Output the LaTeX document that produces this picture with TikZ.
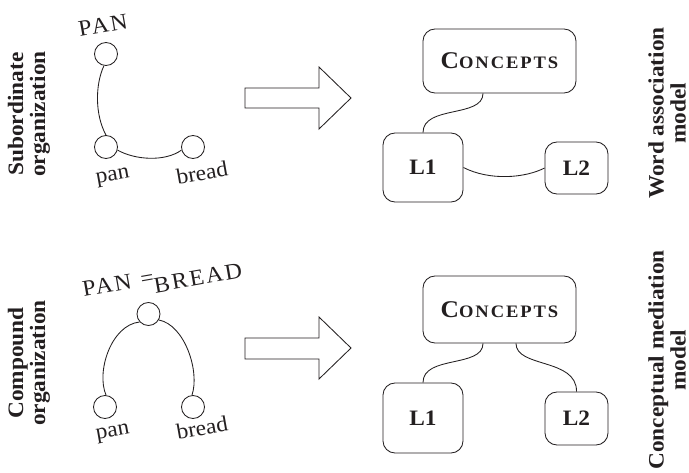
\documentclass[tikz,border=0pt]{standalone}
\usepackage{fontspec}
\setmainfont{Liberation Serif}[FakeStretch=1.06]
\definecolor{ink}{RGB}{35,31,32}
\newcommand{\ConceptsText}{{\fontsize{24}{24}\selectfont\addfontfeature{LetterSpace=6}C}{\fontsize{17.5}{17.5}\selectfont\addfontfeature{LetterSpace=11}ONCEPTS}}
\begin{document}
\begin{tikzpicture}[x=1pt,y=-1pt,
  ln/.style={draw=ink, line width=0.85pt},
  dot/.style={circle, draw=ink, line width=0.85pt, minimum size=23pt, inner sep=0pt},
  box/.style={draw=ink, rounded corners=12pt, line width=0.85pt, inner sep=0pt, text=ink,
    font=\fontsize{22}{22}\selectfont\bfseries},
  lab/.style={font=\fontsize{22}{22}\selectfont\bfseries, align=center, text=ink, rotate=90, inner sep=0pt},
  word/.style={font=\fontsize{22}{22}\selectfont, text=ink, rotate=10, inner sep=0pt},
  caps/.style={font=\fontsize{22.5}{22.5}\selectfont\addfontfeature{LetterSpace=9}, text=ink, rotate=10, inner sep=0pt},
  bigarrow/.style={draw=ink, line width=0.85pt, fill=white}
]
\fill[white] (0,0) rectangle (689,472);
\useasboundingbox (0,0) rectangle (689,472);

% side labels
\node[lab] (labA) at (29,114) {Subordinate\\organization};
\node[lab] (labB) at (29,363) {Compound\\organization};
\node[lab] (labC) at (667,113) {Word association\\model};
\node[lab] (labD) at (667,360) {Conceptual mediation\\model};

% top left graph
\node[dot] (PANa) at (106,54) {};
\node[dot] (pana) at (106,147) {};
\node[dot] (breada) at (193,147) {};
\node[caps] (tPANa) at (103,25) {PAN};
\node[word] (tpana) at (113,178) {pan};
\node[word] (tbreada) at (202,173) {bread};
\draw[ln] (PANa.-100) .. controls (95,85) and (95,115) .. (pana.90);
\draw[ln] (pana.-15) .. controls (135,160) and (165,162) .. (breada.195);

% bottom left graph
\node[dot] (PANb) at (148.5,314) {};
\node[dot] (panb) at (105,407) {};
\node[dot] (breadb) at (193,407) {};
\node[caps] (tPANb) at (107,285) {PAN};
\node[word] (teq) at (147.5,280) {=};
\node[caps] (tBREADb) at (198,278) {BREAD};
\node[word] (tpanb) at (113,434) {pan};
\node[word] (tbreadb) at (202,428) {bread};
\draw[ln] (PANb.222) .. controls (111,325) and (96,372) .. (panb.85);
\draw[ln] (PANb.-30) .. controls (185,325) and (200,372) .. (breadb.95);

% big arrows
\draw[bigarrow] (245,88) -- (319,88) -- (319,67) -- (351,98) -- (319,129) -- (319,108) -- (245,108) -- cycle;
\draw[bigarrow] (245,338) -- (319,338) -- (319,317) -- (351,348) -- (319,379) -- (319,359) -- (245,359) -- cycle;

% top right model
\node[box, minimum width=153pt, minimum height=64pt] (Ca) at (499.5,61) {\ConceptsText};
\node[box, minimum width=80pt, minimum height=69pt] (L1a) at (423,167.5) {L1};
\node[box, minimum width=63pt, minimum height=52pt] (L2a) at (576.5,168) {L2};
\draw[ln] (Ca.south -| 483,0) .. controls (483,118) and (423,105) .. (L1a.north);
\draw[ln] (L1a.east) .. controls (490,181) and (525,178) .. (L2a.west);

% bottom right model
\node[box, minimum width=153pt, minimum height=67pt] (Cb) at (499.5,309.5) {\ConceptsText};
\node[box, minimum width=80pt, minimum height=70pt] (L1b) at (423,418) {L1};
\node[box, minimum width=63pt, minimum height=53pt] (L2b) at (576.5,418.5) {L2};
\draw[ln] (Cb.south -| 483,0) .. controls (483,368) and (423,355) .. (L1b.north);
\draw[ln] (Cb.south -| 516,0) .. controls (516,368) and (577,358) .. (L2b.north);
\end{tikzpicture}
\end{document}
